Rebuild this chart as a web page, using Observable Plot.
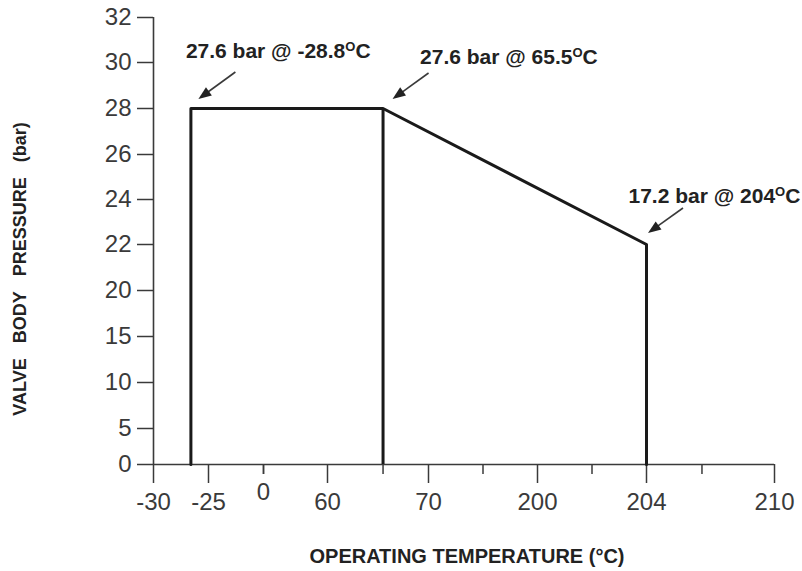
<!DOCTYPE html>
<html><head><meta charset="utf-8">
<script src="https://cdn.jsdelivr.net/npm/d3@7"></script>
<script src="https://cdn.jsdelivr.net/npm/@observablehq/plot@0.6"></script>
<style>body{margin:0;background:#fff;}</style>
</head><body><div id="chart"></div>
<script>
// ---- data ----
const curveTemp = [-26.6, -26.6, 65.5, 204, 204];
const curvePressure = [0, 28, 28, 22, 0];
const dividerTemp = [65.5];
const dividerTop = [28];
const xScaleStops = [-30, -25, 0, 60, 70, 200, 204, 210];
const xTickValues = [-30, -25, 60, 70, 200, 204, 210];
const xMinorTicks = [0, 65.5, 135, 202, 206.6];
const xRaisedLabel = [0];
const yTickValues = [0, 5, 10, 15, 20, 22, 24, 26, 28, 30, 32];
const annotationText = ["27.6 bar @ -28.8°C", "27.6 bar @ 65.5°C", "17.2 bar @ 204°C"];
const annotationTemp = [-26.6, 65.5, 204];
const annotationPressure = [28, 28, 22];
const xTitle = "OPERATING TEMPERATURE (°C)";
const yTitle = "VALVE\u00A0\u00A0\u00A0BODY\u00A0\u00A0\u00A0PRESSURE\u00A0\u00A0\u00A0(bar)";

// ---- layout / style ----
const W = 802, H = 571;
const xRange = [153, 208, 263, 327, 428, 537, 646, 774];
const yRange = [464, 428, 382, 336, 290, 244, 199, 154, 108, 62, 17];
const FONT = "'Liberation Sans', Arial, Helvetica, sans-serif";
const AX = "#3a3a3a";
const LINE = "#1a1a1a";
// [text dx, text dy, head dx, head dy, tail dx, tail dy]
const annLayout = [
  [-5, -57, 8, -9, 45, -36],
  [37, -51, 10, -9, 46, -35],
  [-18, -48, 2, -11, 37, -36]
];

const curve = curveTemp.map((t, i) => ({t, p: curvePressure[i]}));
const divider = dividerTemp.map((t, i) => ({t, p: dividerTop[i]}));

function arrows(index, scales) {
  const g = d3.create("svg:g");
  annotationTemp.forEach((t, i) => {
    const ax = scales.x(t), ay = scales.y(annotationPressure[i]);
    const [, , hdx, hdy, tdx, tdy] = annLayout[i];
    const hx = ax + hdx, hy = ay + hdy, tx = ax + tdx, ty = ay + tdy;
    const len = Math.hypot(hx - tx, hy - ty);
    const ux = (hx - tx) / len, uy = (hy - ty) / len;
    const nx = -uy, ny = ux;
    const L = 13, w = 10;
    const bx = hx - ux * L, by = hy - uy * L;
    g.append("line").attr("x1", tx).attr("y1", ty).attr("x2", bx + ux * 2).attr("y2", by + uy * 2)
      .attr("stroke", AX).attr("stroke-width", 1.6);
    g.append("polygon")
      .attr("points", [[hx, hy], [bx + nx * w / 2, by + ny * w / 2], [bx - nx * w / 2, by - ny * w / 2]].map(p => p.join(",")).join(" "))
      .attr("fill", "#222");
  });
  return g.node();
}

const annMarks = annotationText.map((txt, i) =>
  Plot.text([i], {
    x: d => annotationTemp[d], y: d => annotationPressure[d], text: d => annotationText[d],
    textAnchor: "start", dx: annLayout[i][0], dy: annLayout[i][1],
    fontSize: 21, fontWeight: "bold", fill: "#222"
  })
);

const plot = Plot.plot({
  width: W, height: H,
  marginLeft: 153, marginRight: W - 774, marginTop: 17, marginBottom: H - 464,
  style: {fontFamily: FONT, background: "#fff", color: AX, overflow: "visible"},
  x: {type: "linear", domain: xScaleStops, range: xRange, label: null},
  y: {type: "linear", domain: yTickValues, range: yRange, label: null},
  marks: [
    Plot.axisY({ticks: yTickValues, tickSize: 16, tickPadding: 6, fontSize: 24, strokeWidth: 1.5, label: null, tickFormat: d => String(d)}),
    Plot.axisX({ticks: xTickValues, tickSize: 19, tickPadding: 9, fontSize: 24, strokeWidth: 1.5, label: null, tickFormat: d => String(d)}),
    Plot.axisX({ticks: xMinorTicks, tickSize: 10, strokeWidth: 1.5, label: null, tickFormat: () => ""}),
    Plot.axisX({ticks: xRaisedLabel, tickSize: 10, tickPadding: 8, fontSize: 24, strokeWidth: 1.5, label: null, tickFormat: d => String(d)}),
    Plot.ruleX([xScaleStops[0]], {y1: yTickValues[0], y2: yTickValues[yTickValues.length - 1], stroke: AX, strokeWidth: 1.6}),
    Plot.ruleY([yTickValues[0]], {x1: xScaleStops[0], x2: xScaleStops[xScaleStops.length - 1], stroke: AX, strokeWidth: 1.6}),
    Plot.ruleX(divider, {x: "t", y1: 0, y2: "p", stroke: LINE, strokeWidth: 3}),
    Plot.line(curve, {x: "t", y: "p", stroke: LINE, strokeWidth: 3, strokeLinejoin: "round"}),
    ...annMarks,
    arrows
  ]
});

const svg = d3.select(plot);
// superscript "O" for degree in annotations
svg.selectAll("text").each(function() {
  const s = this.textContent;
  if (s.includes("bar @") && s.includes("°")) {
    const [a, b] = s.split("°");
    const el = d3.select(this);
    el.text(null);
    el.append("tspan").text(a);
    el.append("tspan").attr("font-size", 13).attr("dy", -7).text("O");
    el.append("tspan").attr("font-size", 21).attr("dy", 7).text(b);
  }
});
svg.append("text").attr("x", 467).attr("y", 558).attr("text-anchor", "middle").attr("dominant-baseline", "middle")
  .attr("font-family", FONT).attr("font-weight", "bold").attr("font-size", 20).attr("fill", "#222").text(xTitle);
svg.append("text").attr("transform", "translate(21,269) rotate(-90)").attr("text-anchor", "middle").attr("dominant-baseline", "middle")
  .attr("font-family", FONT).attr("font-weight", "bold").attr("font-size", 18).attr("fill", "#222").text(yTitle);

document.getElementById("chart").appendChild(plot);
</script>
</body></html>
